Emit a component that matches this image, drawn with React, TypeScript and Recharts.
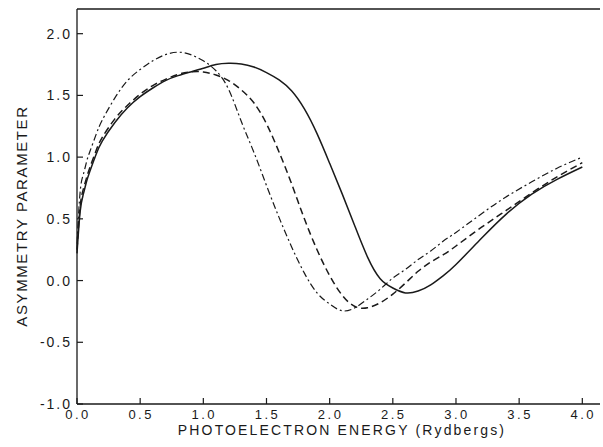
// Recharts
import { LineChart, Line, XAxis, YAxis, ReferenceLine, Label } from 'recharts';

// Photoelectron energy (Rydbergs)
const energy = [
    0, 0.025, 0.05, 0.075, 0.1, 0.15, 0.2, 0.3, 0.4, 0.5, 0.6, 0.7, 0.8, 0.9, 1.0,
    1.1, 1.2, 1.3, 1.4, 1.5, 1.6, 1.7, 1.8, 1.9, 2.0, 2.1, 2.2, 2.3, 2.4, 2.5,
    2.6, 2.7, 2.8, 2.9, 3.0, 3.2, 3.4, 3.6, 3.8, 4.0,
];

// Asymmetry parameter, one array per curve
const solidBeta = [
    0.22, 0.56, 0.70, 0.80, 0.88, 1.02, 1.13, 1.28, 1.40, 1.49, 1.56, 1.62, 1.66, 1.69, 1.72,
    1.75, 1.76, 1.755, 1.73, 1.685, 1.625, 1.535, 1.39, 1.19, 0.95, 0.70, 0.44, 0.19, 0.015, -0.06,
    -0.10, -0.085, -0.035, 0.04, 0.13, 0.34, 0.54, 0.70, 0.82, 0.92,
];
const dashedBeta = [
    0.25, 0.60, 0.74, 0.83, 0.91, 1.05, 1.16, 1.31, 1.42, 1.51, 1.58, 1.63, 1.67, 1.69, 1.69,
    1.665, 1.62, 1.545, 1.44, 1.27, 1.04, 0.78, 0.50, 0.25, 0.04, -0.12, -0.21, -0.22, -0.18, -0.11,
    -0.02, 0.075, 0.15, 0.21, 0.28, 0.43, 0.57, 0.71, 0.84, 0.955,
];
const dashDotBeta = [
    0.30, 0.72, 0.86, 0.96, 1.04, 1.18, 1.30, 1.48, 1.62, 1.71, 1.78, 1.83, 1.85, 1.83, 1.78,
    1.70, 1.55, 1.29, 1.04, 0.77, 0.51, 0.27, 0.06, -0.10, -0.19, -0.245, -0.22, -0.15, -0.07, 0.02,
    0.09, 0.17, 0.24, 0.32, 0.39, 0.54, 0.68, 0.80, 0.91, 1.00,
];

const xTicks = [0, 0.5, 1.0, 1.5, 2.0, 2.5, 3.0, 3.5, 4.0];
const yTicks = [-1.0, -0.5, 0.0, 0.5, 1.0, 1.5, 2.0];

const data = energy.map((x, i) => ({
    x,
    solid: solidBeta[i],
    dashed: dashedBeta[i],
    dashdot: dashDotBeta[i],
}));

const INK = '#1a1a1a';
const FONT = '"Liberation Sans", Arial, sans-serif';

function YTick({ x, y, payload }: any) {
    return (
        <g>
            <line x1={x} x2={x + 6} y1={y} y2={y} stroke={INK} strokeWidth={1.2} />
            <text x={x - 5} y={y + 5} textAnchor="end" fill={INK} fontSize={14}
                fontFamily={FONT} style={{ letterSpacing: '2px' }}>
                {payload.value.toFixed(1)}
            </text>
        </g>
    );
}

function XTick({ x, y, payload }: any) {
    return (
        <g>
            <line x1={x} x2={x} y1={y} y2={y - 6} stroke={INK} strokeWidth={1.2} />
            <text x={x + 1} y={y + 15} textAnchor="middle" fill={INK} fontSize={13}
                fontFamily={FONT} style={{ letterSpacing: '2.5px' }}>
                {payload.value.toFixed(1)}
            </text>
        </g>
    );
}

function App() {
    return (
        <div style={{ position: 'absolute', left: 0, top: 0 }}>
            <LineChart width={603} height={447} data={data}
                margin={{ top: 9, right: 3, bottom: 0, left: 0 }}>
                <XAxis dataKey="x" type="number" domain={[0, 4.14]} ticks={xTicks}
                    height={43} tickLine={false} tickSize={0} tickMargin={0}
                    stroke={INK} strokeWidth={1.3} tick={<XTick />} interval={0}>
                    <Label content={() => (
                        <text x={342} y={435} textAnchor="middle" fill={INK} fontSize={14}
                            fontFamily={FONT} style={{ letterSpacing: '2.15px' }}>
                            PHOTOELECTRON ENERGY (Rydbergs)
                        </text>
                    )} />
                </XAxis>
                <YAxis type="number" domain={[-1, 2.2]} ticks={yTicks} width={77}
                    tickLine={false} tickSize={0} tickMargin={0}
                    stroke={INK} strokeWidth={1.3} tick={<YTick />} interval={0}>
                    <Label content={() => (
                        <text x={27} y={216} textAnchor="middle" fill={INK} fontSize={15}
                            fontFamily={FONT} transform="rotate(-90 27 216)"
                            style={{ letterSpacing: '1.6px' }}>
                            ASYMMETRY PARAMETER
                        </text>
                    )} />
                </YAxis>
                <ReferenceLine y={2.2} stroke={INK} strokeWidth={1.3} />
                <Line type="natural" dataKey="solid" stroke={INK} strokeWidth={1.5}
                    dot={false} isAnimationActive={false} />
                <Line type="natural" dataKey="dashed" stroke={INK} strokeWidth={1.5}
                    strokeDasharray="7 4" dot={false} isAnimationActive={false} />
                <Line type="natural" dataKey="dashdot" stroke={INK} strokeWidth={1.2}
                    strokeDasharray="7 3 2 3" dot={false} isAnimationActive={false} />
            </LineChart>
        </div>
    );
}

export default App;
